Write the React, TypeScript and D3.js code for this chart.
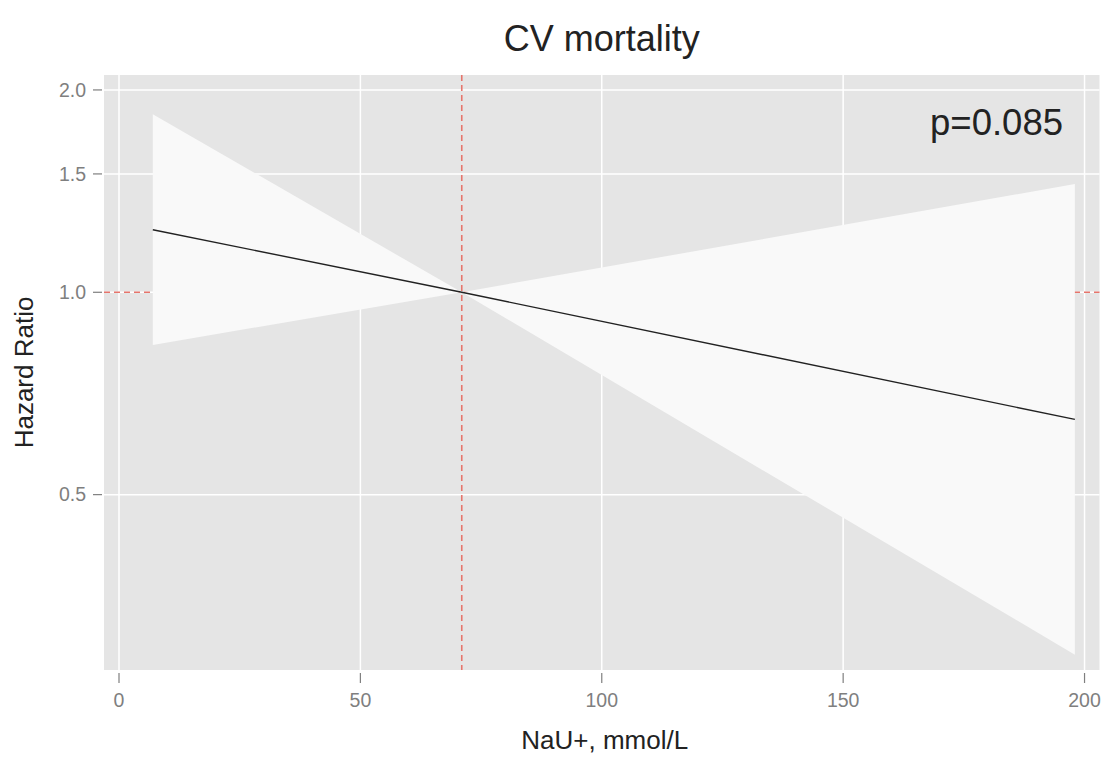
import { useEffect, useRef } from "react";
import * as d3 from "d3";

// NaU+ (mmol/L) where the fitted curve and its CI are evaluated
const nauValues = [7, 71, 198];
const hazardRatio = [1.239, 1.0, 0.647];
const ciLower = [0.835, 1.0, 0.289];
const ciUpper = [1.84, 1.0, 1.449];

const xTicks = [0, 50, 100, 150, 200];
const yTicks = [0.5, 1.0, 1.5, 2.0];
const referenceNau = 71;
const referenceHR = 1;
const pLabel = "p=0.085";

const FONT = "'Liberation Sans', Arial, Helvetica, sans-serif";

export default function App() {
  const svgRef = useRef<SVGSVGElement>(null);

  useEffect(() => {
    if (!svgRef.current) return;
    const width = 1106;
    const height = 758;
    const panel = { left: 104, right: 1099.5, top: 75, bottom: 670 };

    const svg = d3.select(svgRef.current);
    svg.selectAll("*").remove();
    svg.attr("width", width).attr("height", height);

    svg.append("rect").attr("width", width).attr("height", height).attr("fill", "#ffffff");

    const x = d3.scaleLinear().domain([-3.107, 203.1]).range([panel.left, panel.right]);
    const y = d3.scaleLog().domain([0.2742, 2.105]).range([panel.bottom, panel.top]);

    // panel background
    svg
      .append("rect")
      .attr("x", panel.left)
      .attr("y", panel.top)
      .attr("width", panel.right - panel.left)
      .attr("height", panel.bottom - panel.top)
      .attr("fill", "#E5E5E5");

    // grid lines
    svg
      .selectAll(".vgrid")
      .data(xTicks)
      .enter()
      .append("line")
      .attr("x1", (d) => x(d))
      .attr("x2", (d) => x(d))
      .attr("y1", panel.top)
      .attr("y2", panel.bottom)
      .attr("stroke", "#ffffff")
      .attr("stroke-width", 1.5);

    svg
      .selectAll(".hgrid")
      .data(yTicks)
      .enter()
      .append("line")
      .attr("x1", panel.left)
      .attr("x2", panel.right)
      .attr("y1", (d) => y(d))
      .attr("y2", (d) => y(d))
      .attr("stroke", "#ffffff")
      .attr("stroke-width", 1.5);

    const dashColor = "#E6756C";

    // horizontal reference line (under ribbon)
    svg
      .append("line")
      .attr("x1", panel.left)
      .attr("x2", panel.right)
      .attr("y1", y(referenceHR))
      .attr("y2", y(referenceHR))
      .attr("stroke", dashColor)
      .attr("stroke-width", 1.6)
      .attr("stroke-dasharray", "6,4");

    // confidence ribbon
    const pts = nauValues.map((v, i) => ({ x: v, lo: ciLower[i], hi: ciUpper[i], hr: hazardRatio[i] }));
    const area = d3
      .area<(typeof pts)[number]>()
      .x((d) => x(d.x))
      .y0((d) => y(d.lo))
      .y1((d) => y(d.hi));
    svg.append("path").datum(pts).attr("d", area).attr("fill", "#F9F9F9");

    // vertical reference line
    svg
      .append("line")
      .attr("x1", x(referenceNau))
      .attr("x2", x(referenceNau))
      .attr("y1", panel.top)
      .attr("y2", panel.bottom)
      .attr("stroke", dashColor)
      .attr("stroke-width", 1.6)
      .attr("stroke-dasharray", "6,4");

    // fitted line
    const line = d3
      .line<(typeof pts)[number]>()
      .x((d) => x(d.x))
      .y((d) => y(d.hr));
    svg
      .append("path")
      .datum(pts)
      .attr("d", line)
      .attr("fill", "none")
      .attr("stroke", "#222222")
      .attr("stroke-width", 1.4);

    // axes ticks + labels
    const tickColor = "#7F7F7F";
    svg
      .selectAll(".xtick")
      .data(xTicks)
      .enter()
      .append("line")
      .attr("x1", (d) => x(d))
      .attr("x2", (d) => x(d))
      .attr("y1", panel.bottom + 3)
      .attr("y2", panel.bottom + 13)
      .attr("stroke", tickColor)
      .attr("stroke-width", 1.2);
    svg
      .selectAll(".xlabel")
      .data(xTicks)
      .enter()
      .append("text")
      .attr("x", (d) => x(d))
      .attr("y", 707)
      .attr("text-anchor", "middle")
      .attr("font-family", FONT)
      .attr("font-size", 19.5)
      .attr("fill", tickColor)
      .text((d) => String(d));

    svg
      .selectAll(".ytick")
      .data(yTicks)
      .enter()
      .append("line")
      .attr("x1", panel.left - 11)
      .attr("x2", panel.left - 2)
      .attr("y1", (d) => y(d))
      .attr("y2", (d) => y(d))
      .attr("stroke", tickColor)
      .attr("stroke-width", 1.2);
    svg
      .selectAll(".ylabel")
      .data(yTicks)
      .enter()
      .append("text")
      .attr("x", 86)
      .attr("y", (d) => y(d) + 6.8)
      .attr("text-anchor", "end")
      .attr("font-family", FONT)
      .attr("font-size", 19.5)
      .attr("fill", tickColor)
      .text((d) => d.toFixed(1));

    // titles
    svg
      .append("text")
      .attr("x", (panel.left + panel.right) / 2)
      .attr("y", 51)
      .attr("text-anchor", "middle")
      .attr("font-family", FONT)
      .attr("font-size", 36)
      .attr("fill", "#222222")
      .text("CV mortality");

    svg
      .append("text")
      .attr("x", (panel.left + panel.right) / 2 + 3)
      .attr("y", 749)
      .attr("text-anchor", "middle")
      .attr("font-family", FONT)
      .attr("font-size", 26)
      .attr("fill", "#222222")
      .text("NaU+, mmol/L");

    svg
      .append("text")
      .attr("transform", `translate(33, ${(panel.top + panel.bottom) / 2}) rotate(-90)`)
      .attr("text-anchor", "middle")
      .attr("font-family", FONT)
      .attr("font-size", 26)
      .attr("fill", "#222222")
      .text("Hazard Ratio");

    svg
      .append("text")
      .attr("x", 1063)
      .attr("y", 135)
      .attr("text-anchor", "end")
      .attr("font-family", FONT)
      .attr("font-size", 36.5)
      .attr("fill", "#222222")
      .text(pLabel);
  }, []);

  return (
    <div style={{ position: "absolute", left: 0, top: 0 }}>
      <svg ref={svgRef} style={{ display: "block" }} />
    </div>
  );
}
